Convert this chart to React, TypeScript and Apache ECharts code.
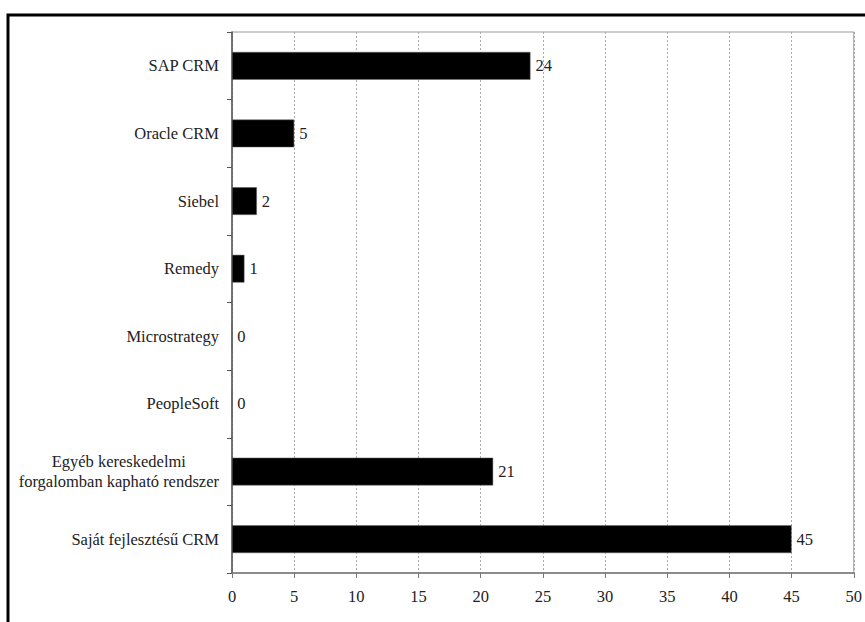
import React, { useEffect, useRef } from "react";
import * as echarts from "echarts";

const categories = [
  "SAP CRM",
  "Oracle CRM",
  "Siebel",
  "Remedy",
  "Microstrategy",
  "PeopleSoft",
  "Egyéb kereskedelmi\nforgalomban kapható rendszer",
  "Saját fejlesztésű CRM",
];
const values = [24, 5, 2, 1, 0, 0, 21, 45];
const xMin = 0;
const xMax = 50;
const xStep = 5;

const FONT = "Liberation Serif";
const FS = 16.5;

export default function App() {
  const ref = useRef<HTMLDivElement>(null);
  useEffect(() => {
    document.body.style.margin = "0";
    const chart = echarts.init(ref.current!, null, { renderer: "svg" });
    chart.setOption({
      animation: false,
      backgroundColor: "#fff",
      textStyle: { fontFamily: FONT },
      grid: {
        left: 232,
        top: 32,
        right: 7,
        bottom: 49,
        show: true,
        borderColor: "#999",
        borderWidth: 1,
        containLabel: false,
      },
      xAxis: {
        type: "value",
        min: xMin,
        max: xMax,
        interval: xStep,
        axisLine: { show: true, lineStyle: { color: "#777", width: 1.5 } },
        axisTick: { show: true, inside: false, length: 5, lineStyle: { color: "#777" } },
        axisLabel: { color: "#222", fontSize: FS, fontFamily: FONT, margin: 15 },
        splitLine: { show: true, lineStyle: { color: "#aaa", type: [2, 2], width: 1 } },
      },
      yAxis: {
        type: "category",
        data: categories,
        inverse: true,
        axisLine: { show: true, lineStyle: { color: "#555", width: 1.5 } },
        axisTick: { show: true, length: 5, lineStyle: { color: "#555" } },
        axisLabel: {
          color: "#222",
          fontSize: FS,
          fontFamily: FONT,
          margin: 13,
          lineHeight: 20,
          formatter: (v: string) =>
            v.indexOf("\n") >= 0
              ? v
                  .split("\n")
                  .map((s) => "{c|" + s + "}")
                  .join("\n")
              : v,
          rich: {
            c: { align: "center", fontSize: FS, fontFamily: FONT, color: "#222", lineHeight: 20 },
          },
        },
        splitLine: { show: false },
      },
      series: [
        {
          type: "bar",
          data: values,
          barWidth: "41%",
          itemStyle: { color: "#000", borderColor: "#666", borderWidth: 0.5 },
          label: {
            show: true,
            position: "right",
            distance: 5,
            color: "#222",
            fontSize: FS,
            fontFamily: FONT,
          },
        },
      ],
      graphic: [
        {
          type: "rect",
          shape: { x: 8, y: 15, width: 900, height: 700 },
          style: { fill: "none", stroke: "#000", lineWidth: 3 },
          silent: true,
          z: 100,
        },
      ],
    });
    return () => chart.dispose();
  }, []);
  return <div ref={ref} style={{ width: 865, height: 622 }} />;
}
